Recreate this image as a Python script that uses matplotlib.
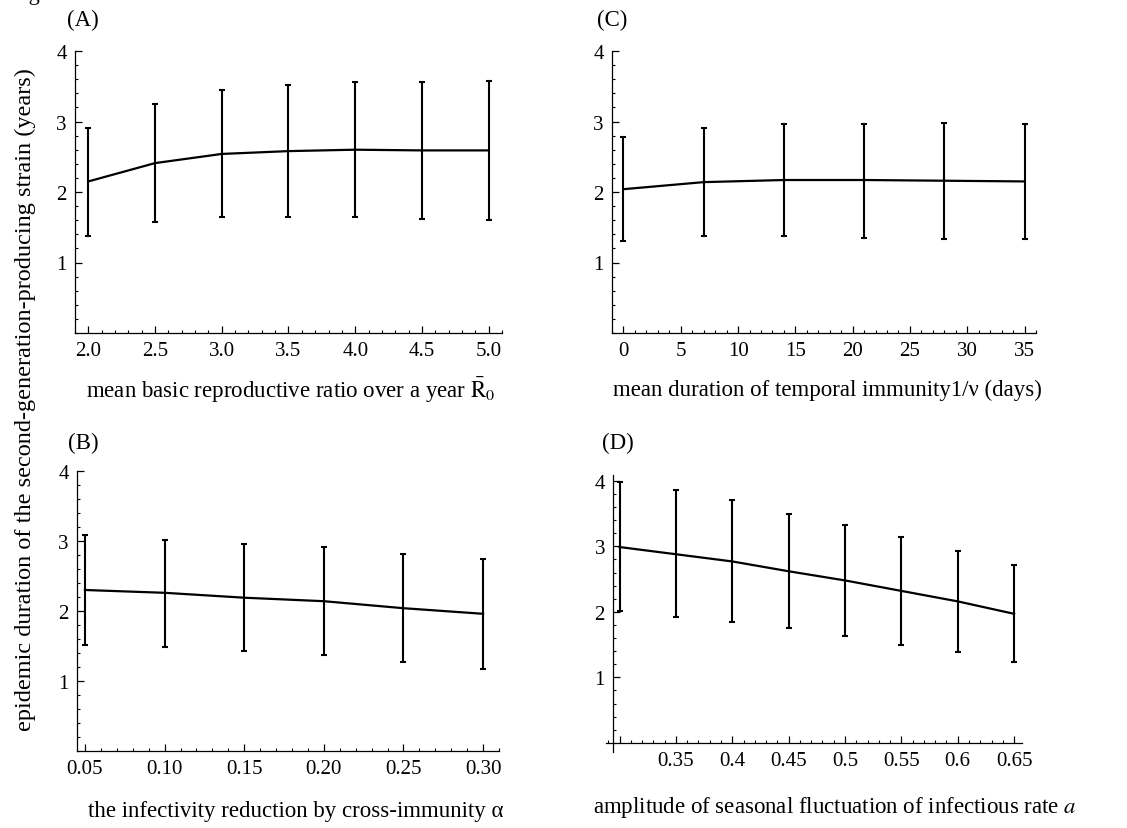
import numpy as np
import matplotlib
matplotlib.use("Agg")
import matplotlib.pyplot as plt
from matplotlib.ticker import MultipleLocator, FixedLocator

plt.rcParams['font.family'] = ['Liberation Serif', 'DejaVu Serif']
plt.rcParams['mathtext.fontset'] = 'stix'

# (A) mean basic reproductive ratio
xA = [2.0, 2.5, 3.0, 3.5, 4.0, 4.5, 5.0]
meanA = [2.15, 2.41, 2.54, 2.58, 2.60, 2.59, 2.59]
hiA = [2.91, 3.25, 3.45, 3.52, 3.56, 3.56, 3.58]
loA = [1.37, 1.57, 1.64, 1.64, 1.64, 1.62, 1.60]

# (B) infectivity reduction by cross-immunity
xB = [0.05, 0.10, 0.15, 0.20, 0.25, 0.30]
meanB = [2.30, 2.26, 2.19, 2.14, 2.04, 1.96]
hiB = [3.08, 3.02, 2.96, 2.91, 2.82, 2.74]
loB = [1.52, 1.48, 1.43, 1.37, 1.27, 1.17]

# (C) mean duration of temporal immunity (days)
xC = [0, 7, 14, 21, 28, 35]
meanC = [2.04, 2.14, 2.17, 2.17, 2.16, 2.15]
hiC = [2.78, 2.91, 2.97, 2.97, 2.98, 2.96]
loC = [1.30, 1.37, 1.37, 1.35, 1.34, 1.34]

# (D) amplitude of seasonal fluctuation
xD = [0.30, 0.35, 0.40, 0.45, 0.50, 0.55, 0.60, 0.65]
meanD = [2.99, 2.88, 2.77, 2.62, 2.48, 2.32, 2.16, 1.97]
hiD = [3.99, 3.86, 3.71, 3.50, 3.32, 3.15, 2.93, 2.72]
loD = [2.02, 1.92, 1.85, 1.75, 1.63, 1.50, 1.38, 1.23]

W, H = 1127, 829
fig = plt.figure(figsize=(W / 100, H / 100), dpi=100)


def box(l, r, t, b):
    return [l / W, 1 - b / H, (r - l) / W, (b - t) / H]


def draw(ax, x, m, lo, hi):
    m = np.array(m)
    yerr = [m - np.array(lo), np.array(hi) - m]
    ax.errorbar(x, m, yerr=yerr, color='black', lw=1.6, elinewidth=1.5,
                capsize=2.2, capthick=1.5)
    for s in ['top', 'right']:
        ax.spines[s].set_visible(False)
    for s in ['left', 'bottom']:
        ax.spines[s].set_linewidth(0.9)
    ax.yaxis.set_major_locator(FixedLocator([1, 2, 3, 4]))
    ax.yaxis.set_minor_locator(MultipleLocator(0.2))
    ax.tick_params(which='major', direction='in', length=5, width=0.9,
                   labelsize=15, pad=6)
    ax.tick_params(which='minor', direction='in', length=2.5, width=0.8)


LBL = 16.5

axA = fig.add_axes(box(75, 502, 52, 334))
draw(axA, xA, meanA, loA, hiA)
axA.set_xlim(1.90, 5.10)
axA.set_ylim(0, 4)
axA.xaxis.set_major_locator(MultipleLocator(0.5))
axA.xaxis.set_minor_locator(MultipleLocator(0.1))
axA.xaxis.set_major_formatter(lambda v, p: '%.1f' % v)
axA.set_xlabel(r'mean basic reproductive ratio over a year $\bar{\mathrm{R}}_{0}$', fontsize=LBL)
axA.xaxis.set_label_coords(0.506, -0.199)
axA.xaxis.label.set_va('center')

axC = fig.add_axes(box(612, 1036, 52, 334))
draw(axC, xC, meanC, loC, hiC)
axC.set_xlim(-1.0, 36.0)
axC.set_ylim(0, 4)
axC.xaxis.set_major_locator(MultipleLocator(5))
axC.xaxis.set_minor_locator(MultipleLocator(1))
axC.set_xlabel('mean duration of temporal immunity1/ν (days)', fontsize=LBL)
axC.xaxis.set_label_coords(0.507, -0.199)
axC.xaxis.label.set_va('center')

axB = fig.add_axes(box(77, 499, 472, 752))
draw(axB, xB, meanB, loB, hiB)
axB.set_xlim(0.045, 0.31)
axB.set_ylim(0, 4)
axB.xaxis.set_major_locator(MultipleLocator(0.05))
axB.xaxis.set_minor_locator(MultipleLocator(0.01))
axB.xaxis.set_major_formatter(lambda v, p: '%.2f' % v)
axB.set_xlabel('the infectivity reduction by cross-immunity α', fontsize=LBL)
axB.xaxis.set_label_coords(0.519, -0.214)
axB.xaxis.label.set_va('center')

axD = fig.add_axes(box(606, 1022, 476, 753))
draw(axD, xD, meanD, loD, hiD)
axD.set_xlim(0.288, 0.657)
axD.set_ylim(-0.14, 4.09)
axD.spines['left'].set_position(('data', 0.2945))
axD.spines['bottom'].set_position(('data', 0))
axD.xaxis.set_major_locator(FixedLocator(xD))
axD.xaxis.set_minor_locator(MultipleLocator(0.01))
axD.xaxis.set_major_formatter(lambda v, p: '' if abs(v - 0.3) < 1e-6 else ('%g' % round(v, 2)))
axD.set_xlabel(r'amplitude of seasonal fluctuation of infectious rate $a$', fontsize=LBL)
axD.xaxis.set_label_coords(0.551, -0.197)
axD.xaxis.label.set_va('center')

for lab, (px, py) in [('(A)', (83, 20)), ('(C)', (612, 20)),
                      ('(B)', (83, 443)), ('(D)', (618, 443))]:
    fig.text(px / W, 1 - py / H, lab, fontsize=16.5, ha='center', va='center')

fig.text(25 / W, 1 - 400 / H,
         'epidemic duration of the second-generation-producing strain (years)',
         rotation=90, fontsize=17.5, ha='center', va='center')

# caption above the figure, only the descender of its "g" is visible
fig.text(10 / W, 1 + 0.5 / H, 'Fig', fontsize=16, ha='left', va='baseline')

fig.savefig('out.png', dpi=100)
